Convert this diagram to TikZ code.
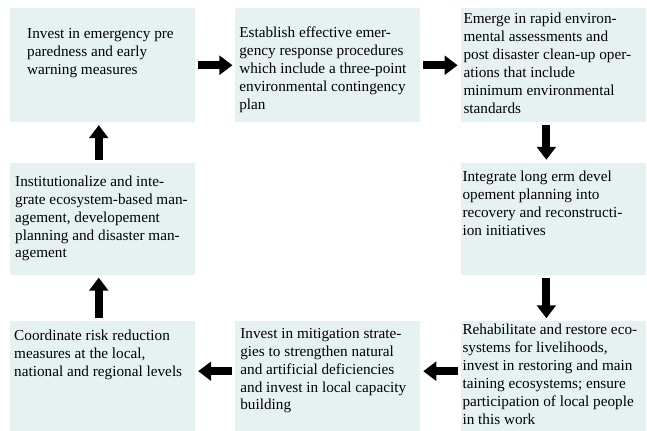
\documentclass[tikz,border=0pt]{standalone}
\usepackage{fontspec}
\setmainfont{Liberation Serif}
\usetikzlibrary{arrows.meta,positioning,calc}
\definecolor{panel}{RGB}{230,242,242}

\begin{document}
\begin{tikzpicture}[
    x=0.03cm, y=-0.03cm,
    node distance=1.2cm and 1.19cm,
    block/.style={fill=panel, minimum width=5.55cm, inner sep=0pt},
    blocktext/.style={anchor=north west, align=left, inner sep=0pt, font=\fontsize{13}{15.3}\selectfont},
    flow/.style={-{Triangle[length=0.39cm,width=0.56cm]}, line width=0.24cm, shorten <=0.08cm, shorten >=0.08cm}
]
\useasboundingbox (0,0) rectangle (647,431);

% boxes, clockwise from top left
\node[block, minimum height=3.42cm, anchor=north west] (prep) at (10,8) {};
\node[block, minimum height=3.42cm, right=of prep] (resp) {};
\node[block, minimum height=3.42cm, right=of resp] (assess) {};
\node[block, minimum height=3.36cm, below=of assess] (recov) {};
\node[block, minimum height=3.3cm, below=1.38cm of recov] (restore) {};
\node[block, minimum height=3.36cm, below=of prep] (inst) {};
\node[block, minimum height=3.3cm, below=1.38cm of inst] (coord) {};
\node[block, minimum height=3.3cm, left=of restore] (mitig) {};

% texts
\node[blocktext] (prep-t) at ($(prep.north west)+(17,20)$) {Invest in emergency pre\\paredness and early\\warning measures};
\node[blocktext] (resp-t) at ($(resp.north west)+(4,19)$) {Establish effective emer-\\gency response procedures\\which include a three-point\\environmental contingency\\plan};
\node[blocktext] (assess-t) at ($(assess.north west)+(3,5)$) {Emerge in rapid environ-\\mental assessments and\\post disaster clean-up oper-\\ations that include\\minimum environmental\\standards};
\node[blocktext] (recov-t) at ($(recov.north west)+(2,8)$) {Integrate long erm devel\\opement planning into\\recovery and reconstructi-\\ion initiatives};
\node[blocktext] (restore-t) at ($(restore.north west)+(2,3)$) {Rehabilitate and restore eco-\\systems for livelihoods,\\invest in restoring and main\\taining ecosystems; ensure\\participation of local people\\in this work};
\node[blocktext] (mitig-t) at ($(mitig.north west)+(5,7)$) {Invest in mitigation strate-\\gies to strengthen natural\\and artificial deficiencies\\and invest in local capacity\\building};
\node[blocktext] (coord-t) at ($(coord.north west)+(4,9)$) {Coordinate risk reduction\\measures at the local,\\national and regional levels};
\node[blocktext] (inst-t) at ($(inst.north west)+(5,13)$) {Institutionalize and inte-\\grate ecosystem-based man-\\agement, developement\\planning and disaster man-\\agement};

% arrows
\draw[flow] (prep) -- (resp);
\draw[flow] (resp) -- (assess);
\draw[flow] ([xshift=-0.2cm]assess.south) -- ([xshift=-0.2cm]recov.north);
\draw[flow] ([xshift=-0.2cm]recov.south) -- ([xshift=-0.2cm]restore.north);
\draw[flow] ([yshift=0.15cm]restore.west) -- ([yshift=0.15cm]mitig.east);
\draw[flow] ([yshift=0.15cm]mitig.west) -- ([yshift=0.15cm]coord.east);
\draw[flow] ([xshift=-0.12cm]coord.north) -- ([xshift=-0.12cm]inst.south);
\draw[flow] ([xshift=-0.12cm]inst.north) -- ([xshift=-0.12cm]prep.south);
\end{tikzpicture}
\end{document}
